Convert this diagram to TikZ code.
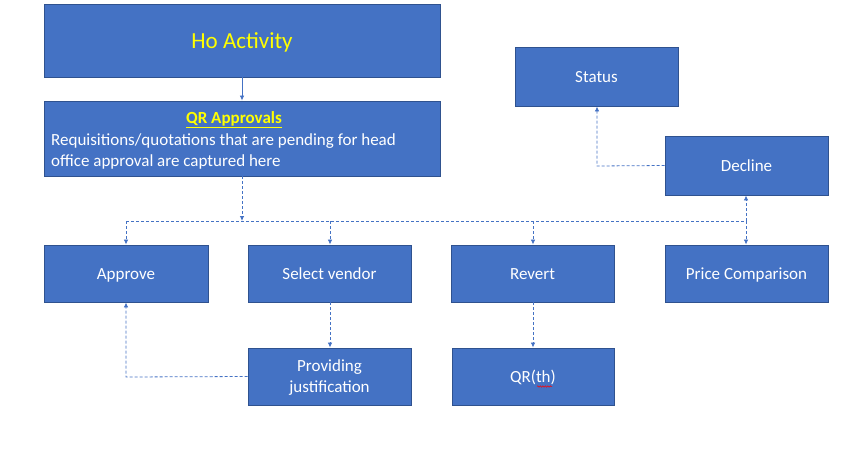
\documentclass[tikz,border=0pt]{standalone}
\usepackage{fontspec}
\setmainfont{Carlito}
\usetikzlibrary{arrows.meta,decorations.pathmorphing}
\definecolor{boxfill}{HTML}{4472C4}
\definecolor{boxline}{HTML}{2F528F}
\definecolor{hoyellow}{HTML}{FFFF00}
\definecolor{linkblue}{HTML}{4472C4}
\begin{document}
\begin{tikzpicture}[x=1pt,y=-1pt,
  box/.style={draw=boxline,fill=boxfill,line width=0.9pt,text=white,font=\fontsize{17}{21}\selectfont,align=center,inner sep=0pt},
  onebox/.style={box,text height=14pt,text depth=3pt},
  intext/.style={text=white,font=\fontsize{17}{21}\selectfont,inner sep=0pt,anchor=base west},
  link/.style={draw=linkblue,line width=0.8pt,dash pattern=on 3pt off 2pt,-{Latex[length=5pt,width=4.5pt]}},
  plain/.style={draw=linkblue,line width=0.8pt,dash pattern=on 3pt off 2pt},
  solidlink/.style={draw=linkblue,line width=0.8pt,-{Latex[length=5pt,width=4.5pt]}}]
\useasboundingbox (0,0) rectangle (856,471);
% boxes
\node[box,minimum width=396,minimum height=73,text=hoyellow,font=\fontsize{23}{27}\selectfont,text height=19pt,text depth=4pt] (ho) at (242,40.5) {Ho Activity};
\node[box,minimum width=396,minimum height=75] (qr) at (242,138.5) {};
\node[text=hoyellow,font=\bfseries\fontsize{17}{21}\selectfont,inner sep=0pt,anchor=base] (qrtitle) at (234,123) {\underline{QR Approvals}};
\node[intext] (qrline1) at (51,145) {Requisitions/quotations that are pending for head};
\node[intext] (qrline2) at (51,166.5) {office approval are captured here};
\node[onebox,minimum width=163,minimum height=59] (status) at (596.5,76.5) {Status};
\node[onebox,minimum width=163,minimum height=59] (decline) at (746.5,165.5) {Decline};
\node[onebox,minimum width=164,minimum height=57] (approve) at (126,273.5) {Approve};
\node[onebox,minimum width=163,minimum height=57] (vendor) at (329.5,273.5) {Select vendor};
\node[onebox,minimum width=163,minimum height=57] (revert) at (532.5,273.5) {Revert};
\node[onebox,minimum width=163,minimum height=57] (price) at (746.5,273.5) {Price Comparison};
\node[box,minimum width=163,minimum height=57] (just) at (329.5,376.5) {};
\node[text=white,font=\fontsize{17}{21}\selectfont,inner sep=0pt,align=center] (justtext) at (329.5,378) {Providing\\justification};
\node[onebox,minimum width=162,minimum height=57] (qrth) at (533,376.5) {QR(th)};
% squiggle under th
\coordinate (sqa) at (537,386.5);
\coordinate (sqb) at (552,386.5);
\draw[red,line width=0.5pt,decorate,decoration={snake,amplitude=0.7pt,segment length=2.5pt}] (sqa) -- (sqb);
% connectors
\coordinate (hub) at (242,221);
\coordinate (hl) at (126,221);
\coordinate (hr) at (746,221);
\coordinate (hv) at (330,221);
\coordinate (hrv) at (533,221);
\coordinate (dk) at (597,166);
\coordinate (jk) at (126,377);
\draw[solidlink] (ho.south) -- (qr.north);
\draw[link] (qr.south) -- (hub);
\draw[plain] (hl) -- (hr);
\draw[link] (hl) -- (approve.north);
\draw[link] (hv) -- (vendor.north -| hv);
\draw[link] (hrv) -- (revert.north -| hrv);
\draw[link] (hr) -- (price.north -| hr);
\draw[link] (hr) -- (decline.south -| hr);
\draw[link] (decline.west) -- (dk) -- (status.south -| dk);
\draw[link] (vendor.south -| hv) -- (just.north -| hv);
\draw[link] (revert.south -| hrv) -- (qrth.north -| hrv);
\draw[link] (just.west) -- (jk) -- (approve.south);
\end{tikzpicture}
\end{document}
